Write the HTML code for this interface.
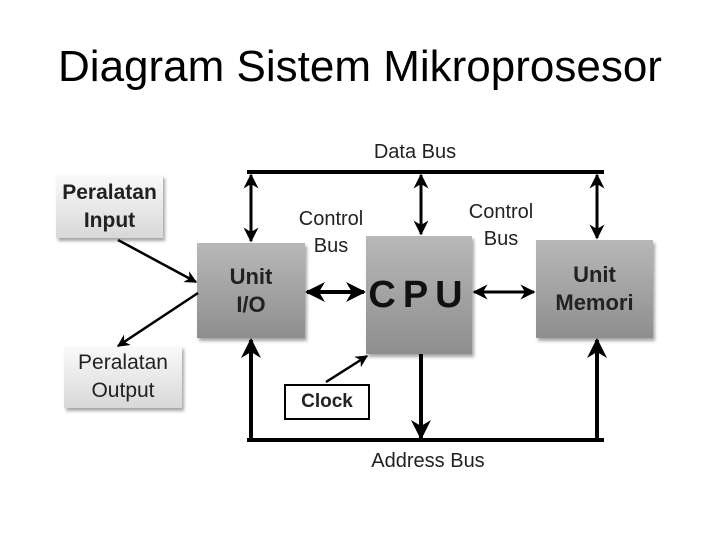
<!DOCTYPE html>
<html><head><meta charset="utf-8"><style>
body{margin:0;width:720px;height:540px;background:#fff;overflow:hidden;font-family:"Liberation Sans",sans-serif;position:relative}
.t{position:absolute;left:0;width:720px;top:42px;text-align:center;font-size:44px;color:#000}
.b{position:absolute;display:flex;align-items:center;justify-content:center;text-align:center;font-weight:bold;color:#222;box-shadow:2px 3px 3px rgba(0,0,0,.35)}
.g{background:linear-gradient(#b8b8b8,#8e8e8e)}
.l{background:linear-gradient(#fafafa,#d8d8d8)}
.lab{position:absolute;font-size:20px;color:#222;text-align:center;line-height:27px}
</style></head><body>
<div class="t">Diagram Sistem Mikroprosesor</div>
<div class="b l" style="left:56px;top:175px;width:107px;height:63px;font-size:21px;line-height:28px">Peralatan<br>Input</div>
<div class="b l" style="left:64px;top:346px;width:118px;height:62px;font-size:21px;line-height:28px;font-weight:normal">Peralatan<br>Output</div>
<div class="b g" style="left:197px;top:243px;width:108px;height:95px;font-size:22px;line-height:28px">Unit<br>I/O</div>
<div class="b g" style="left:366px;top:236px;width:106px;height:118px;font-size:38px;letter-spacing:7px;color:#111">CPU</div>
<div class="b g" style="left:536px;top:240px;width:117px;height:98px;font-size:22px;line-height:28px">Unit<br>Memori</div>
<div class="b" style="left:284px;top:384px;width:82px;height:32px;border:2px solid #000;background:#fff;font-size:19px;box-shadow:none">Clock</div>
<div class="lab" style="left:288px;top:206px;width:86px">Control<br>Bus</div>
<div class="lab" style="left:458px;top:199px;width:86px">Control<br>Bus</div>
<div class="lab" style="left:355px;top:139px;width:120px">Data Bus</div>
<div class="lab" style="left:355px;top:448px;width:146px">Address Bus</div>
<svg width="720" height="540" style="position:absolute;left:0;top:0">
<defs><marker id="a" viewBox="0 0 10 10" refX="9" refY="5" markerWidth="5" markerHeight="5" orient="auto-start-reverse"><path d="M0,0L10,5L0,10L3,5z" fill="#000"/></marker></defs>
<g stroke="#000" stroke-width="4" fill="none">
<line x1="247" y1="172" x2="604" y2="172"/>
<line x1="247" y1="440" x2="604" y2="440"/>
<line x1="251" y1="440" x2="251" y2="340" marker-end="url(#a)"/>
<line x1="597" y1="440" x2="597" y2="340" marker-end="url(#a)"/>
<line x1="421" y1="354" x2="421" y2="438" marker-end="url(#a)"/>
</g>
<g stroke="#000" stroke-width="3" fill="none">
<line x1="251" y1="175" x2="251" y2="241" marker-start="url(#a)" marker-end="url(#a)"/>
<line x1="421" y1="175" x2="421" y2="234" marker-start="url(#a)" marker-end="url(#a)"/>
<line x1="597" y1="175" x2="597" y2="238" marker-start="url(#a)" marker-end="url(#a)"/>
<line x1="307" y1="292" x2="364" y2="292" marker-start="url(#a)" marker-end="url(#a)" stroke-width="4"/>
<line x1="474" y1="292" x2="534" y2="292" marker-start="url(#a)" marker-end="url(#a)"/>
<line x1="118" y1="240" x2="196" y2="282" marker-end="url(#a)" stroke-width="2.5"/>
<line x1="198" y1="293" x2="118" y2="346" marker-end="url(#a)" stroke-width="2.5"/>
<line x1="326" y1="382" x2="367" y2="356" marker-end="url(#a)" stroke-width="2.5"/>
</g>
</svg>
</body></html>
